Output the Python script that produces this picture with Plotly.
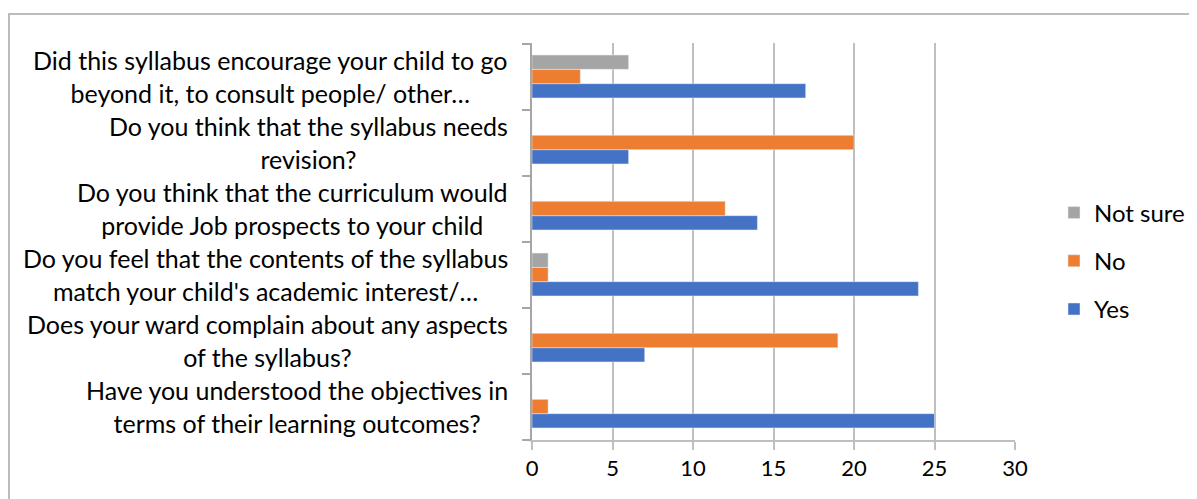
import plotly.graph_objects as go

categories = [
    "Have you understood the objectives in<br>terms of their learning outcomes?",
    "Does your ward complain about any aspects<br>of the syllabus?",
    "Do you feel that the contents of the syllabus<br>match your child's academic interest/…",
    "Do you think that the curriculum would<br>provide Job prospects to your child",
    "Do you think that the syllabus needs<br>revision?",
    "Did this syllabus encourage your child to go<br>beyond it, to consult people/ other…",
]
yes_vals = [25, 7, 24, 14, 6, 17]
no_vals = [1, 19, 1, 12, 20, 3]
notsure_vals = [0, 0, 1, 0, 0, 6]
x_ticks = [0, 5, 10, 15, 20, 25, 30]

FONT = "Lato"
FS = 25
LFS = 24
TFS = 22
# page body has an 8px margin, so the figure is offset by (8, 8)
W, H = 1189, 491
L, R, T, B = 524, 182, 35, 59
pw, ph = W - L - R, H - T - B

fig = go.Figure()
fig.add_trace(go.Bar(name="Yes", y=categories, x=yes_vals, orientation="h",
                     marker_color="#4472C4", legendrank=3, legendgroup="g3"))
fig.add_trace(go.Bar(name="No", y=categories, x=no_vals, orientation="h",
                     marker_color="#ED7D31", legendrank=2, legendgroup="g2"))
fig.add_trace(go.Bar(name="Not sure", y=categories, x=notsure_vals, orientation="h",
                     marker_color="#A5A5A5", legendrank=1, legendgroup="g1"))

for c in categories:
    fig.add_annotation(x=-22 / pw, xref="paper", y=c, yref="y",
                       text=c, showarrow=False, xanchor="right", yanchor="middle",
                       align="center", font=dict(family=FONT, size=FS, color="#000000"))

fig.add_shape(type="rect", xref="paper", yref="paper",
              x0=(1 - L) / pw, x1=(1210 - L) / pw,
              y0=(H - B - 520) / ph, y1=(H - B - 6) / ph,
              line=dict(color="#A6A6A6", width=1.5), fillcolor="rgba(0,0,0,0)",
              layer="below")

fig.update_layout(
    width=W, height=H,
    margin=dict(l=L, r=R, t=T, b=B, autoexpand=False),
    barmode="group", bargap=0.35, bargroupgap=0,
    plot_bgcolor="white", paper_bgcolor="white",
    font=dict(family=FONT, size=FS, color="#000000"),
    legend=dict(traceorder="grouped", x=(1046 - L) / pw, xanchor="left",
                y=(432 - 253) / ph, yanchor="middle",
                font=dict(family=FONT, size=LFS), itemwidth=30, tracegroupgap=14,
                bgcolor="rgba(0,0,0,0)"),
    xaxis=dict(range=[0, 30], tickvals=x_ticks, showgrid=True, gridcolor="#BFBFBF",
               gridwidth=1.5, zeroline=False, showline=True, linecolor="#BFBFBF",
               linewidth=1.5, ticks="outside", ticklen=8, tickcolor="#BFBFBF",
               tickwidth=1.5, tickfont=dict(family=FONT, size=TFS)),
    yaxis=dict(type="category", showticklabels=False, showline=True, linecolor="#A6A6A6",
               linewidth=1.5, ticks="outside", ticklen=8, tickcolor="#A6A6A6",
               tickwidth=1.5, tickson="boundaries", showgrid=False),
)

fig.write_html("out.html")
